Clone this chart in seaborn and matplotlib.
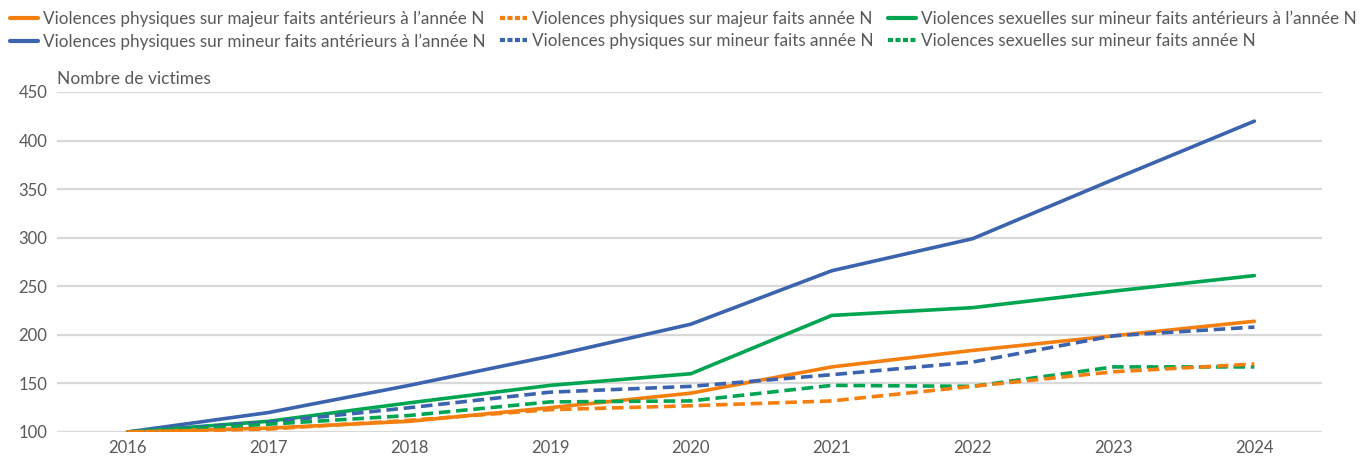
import matplotlib
matplotlib.use("Agg")
import matplotlib.pyplot as plt
import seaborn as sns
import pandas as pd
from matplotlib.lines import Line2D

years = [2016, 2017, 2018, 2019, 2020, 2021, 2022, 2023, 2024]

vp_majeur_ant = [100, 104, 111, 125, 140, 167, 184, 199, 214]
vp_mineur_ant = [100, 120, 148, 178, 211, 266, 299, 360, 420]
vp_majeur_n = [100, 103, 112, 123, 127, 132, 147, 162, 170]
vp_mineur_n = [100, 110, 125, 141, 147, 159, 172, 199, 208]
vs_mineur_ant = [100, 111, 130, 148, 160, 220, 228, 245, 261]
vs_mineur_n = [100, 108, 117, 131, 132, 148, 147, 167, 167]

labels = [
    "Violences physiques sur majeur faits antérieurs à l\u2019année N",
    "Violences physiques sur mineur faits antérieurs à l\u2019année N",
    "Violences physiques sur majeur faits année N",
    "Violences physiques sur mineur faits année N",
    "Violences sexuelles sur mineur faits antérieurs à l\u2019année N",
    "Violences sexuelles sur mineur faits année N",
]
series = [vp_majeur_ant, vp_mineur_ant, vp_majeur_n, vp_mineur_n, vs_mineur_ant, vs_mineur_n]

ORANGE = "#F57F0E"
BLUE = "#3B63AE"
GREEN = "#00A551"
colors = [ORANGE, BLUE, ORANGE, BLUE, GREEN, GREEN]
dashed = [False, False, True, True, False, True]

sns.set_theme(style="white")
plt.rcParams["font.family"] = ["Lato", "DejaVu Sans"]

fig = plt.figure(figsize=(13.69, 4.59), dpi=100)
ax = fig.add_axes([57 / 1369, (459 - 432) / 459, (1322 - 57) / 1369, (432 - 92) / 459])

for v in range(100, 451, 50):
    ax.axhline(v, color="#d9d9d9", lw=1.6, zorder=0)

order = [1, 4, 0, 3, 5, 2]
for i in order:
    df = pd.DataFrame({"annee": years, "valeur": series[i]})
    sns.lineplot(data=df, x="annee", y="valeur", ax=ax, color=colors[i], lw=2.6,
                 linestyle="--" if dashed[i] else "-", legend=False, zorder=3)
    line = ax.lines[-1]
    if dashed[i]:
        line.set_dashes((3.2, 1.6))

ax.set_xlim(2015.5, 2024.48)
ax.set_ylim(100, 450)
ax.set_xticks(years)
ax.set_yticks(range(100, 451, 50))
ax.tick_params(axis="both", length=0, labelsize=12, labelcolor="#595959")
ax.tick_params(axis="y", pad=7)
ax.tick_params(axis="x", pad=6)
ax.set_xlabel("")
ax.set_ylabel("")
for s in ax.spines.values():
    s.set_visible(False)
ax.grid(False)

fig.text(57 / 1369, (459 - 79) / 459, "Nombre de victimes", fontsize=12.5,
         color="#595959", va="center", ha="left")

leg_handles = []
for i in range(6):
    h = Line2D([0], [0], color=colors[i], lw=3)
    if dashed[i]:
        h.set_linestyle((0, (1.2, 0.6)))
    leg_handles.append(h)
leg = fig.legend(leg_handles, labels, ncol=3, loc="upper left",
                 bbox_to_anchor=(0.0, 1.0), frameon=False, fontsize=12.3,
                 handlelength=1.6, handletextpad=0.3, columnspacing=0.85,
                 labelspacing=0.4, borderaxespad=0.3, borderpad=0.3)
for t in leg.get_texts():
    t.set_color("#595959")

fig.savefig("out.png", dpi=100)
